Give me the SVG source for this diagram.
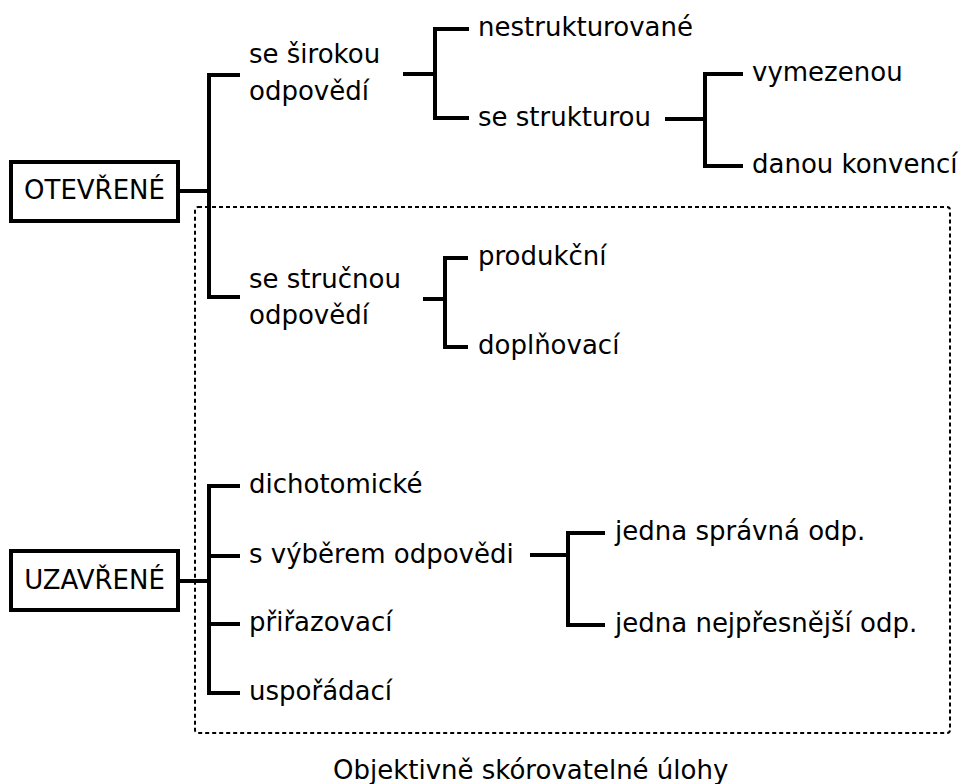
<svg xmlns="http://www.w3.org/2000/svg" width="968" height="784" viewBox="0 0 968 784">
<style>
  text { font-family: "DejaVu Sans", "Noto Sans", sans-serif; font-size: 26px; fill: #000; }
  .box { fill: #fff; stroke: #000; stroke-width: 4; }
  .ln { fill: none; stroke: #000; stroke-width: 4; stroke-linecap: butt; stroke-linejoin: miter; }
  .dot { fill: none; stroke: #000; stroke-width: 2; stroke-dasharray: 4 3; }
</style>
<rect width="968" height="784" fill="#fff"/>
<g id="region">
  <rect class="dot" x="195" y="207" width="755" height="526" rx="3"/>
  <text x="333" y="779">Objektivně skórovatelné úlohy</text>
</g>
<g id="connectors">
  <path class="ln" d="M180,191 H209"/>
  <path class="ln" d="M240,75 H209 V297 H240"/>
  <path class="ln" d="M403,74 H435"/>
  <path class="ln" d="M469,29 H435 V118 H469"/>
  <path class="ln" d="M665,119 H705"/>
  <path class="ln" d="M743,74 H705 V166 H743"/>
  <path class="ln" d="M423,299 H445"/>
  <path class="ln" d="M468,258 H445 V347 H468"/>
  <path class="ln" d="M180,581 H209"/>
  <path class="ln" d="M240,486 H209 V693 H240"/>
  <path class="ln" d="M209,556 H240"/>
  <path class="ln" d="M209,624 H240"/>
  <path class="ln" d="M530,555 H568"/>
  <path class="ln" d="M605,533 H568 V625 H605"/>
</g>
<g id="otevrene">
  <rect class="box" x="11" y="162" width="167" height="59"/>
  <text x="94.5" y="199" text-anchor="middle">OTEVŘENÉ</text>
</g>
<g id="uzavrene">
  <rect class="box" x="11" y="551" width="167" height="59"/>
  <text x="94.5" y="589" text-anchor="middle">UZAVŘENÉ</text>
</g>
<g id="siroka"><text x="249" y="63">se širokou</text><text x="249" y="100">odpovědí</text></g>
<g id="nestrukturovane"><text x="478" y="36">nestrukturované</text></g>
<g id="se-strukturou"><text x="478" y="126">se strukturou</text></g>
<g id="vymezenou"><text x="752" y="81">vymezenou</text></g>
<g id="danou-konvenci"><text x="752" y="173">danou konvencí</text></g>
<g id="strucna"><text x="249" y="288">se stručnou</text><text x="249" y="324">odpovědí</text></g>
<g id="produkcni"><text x="478" y="265">produkční</text></g>
<g id="doplnovaci"><text x="478" y="354">doplňovací</text></g>
<g id="dichotomicke"><text x="249" y="493">dichotomické</text></g>
<g id="s-vyberem"><text x="249" y="563">s výběrem odpovědi</text></g>
<g id="prirazovaci"><text x="249" y="631">přiřazovací</text></g>
<g id="usporadaci"><text x="249" y="700">uspořádací</text></g>
<g id="jedna-spravna"><text x="615" y="540">jedna správná odp.</text></g>
<g id="jedna-nejpresnejsi"><text x="615" y="632">jedna nejpřesnější odp.</text></g>
</svg>
